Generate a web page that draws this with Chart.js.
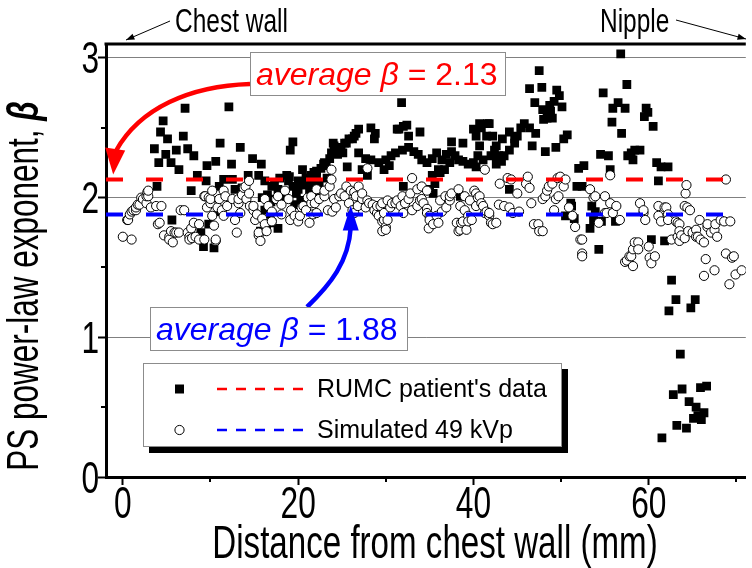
<!DOCTYPE html>
<html>
<head>
<meta charset="utf-8">
<script src="https://cdn.jsdelivr.net/npm/chart.js@4.4.1/dist/chart.umd.min.js"></script>
<style>
  html, body { margin: 0; padding: 0; background: #fff; }
  #wrap { width: 752px; height: 568px; }
</style>
</head>
<body>
<div id="wrap"><canvas id="betaChart" width="752" height="568"></canvas></div>
<script>
// RUMC patient's data (black squares): [distance mm, beta]
const rumcPoints = [
  [3.6,2.35],[3.9,2.08],[4.1,2.25],[4.3,2.47],[4.6,2.55],[4.9,2.31],[5.1,2.42],[5.5,2.25],[5.6,1.84],[6.1,2.34],
  [6.4,2.20],[6.9,2.44],[7.1,2.64],[7.4,2.35],[7.8,2.05],[8.1,2.30],[8.5,2.16],[8.9,1.75],[9.2,1.65],[9.5,2.12],
  [9.6,2.23],[9.8,1.81],[10.4,1.64],[10.6,2.26],[10.9,1.90],[11.0,2.08],[11.1,2.39],[11.5,2.13],[12.1,2.65],[12.4,2.24],
  [12.5,2.13],[12.8,2.06],[13.4,2.36],[13.6,2.07],[14.0,2.05],[14.3,2.16],[14.8,2.28],[15.5,2.16],[15.7,1.76],[15.8,2.24],
  [15.9,2.00],[16.2,2.12],[16.2,1.91],[16.4,1.79],[16.8,1.88],[17.0,2.08],[17.0,1.82],[17.2,1.99],[17.7,2.06],[17.7,1.78],
  [18.7,2.16],[18.9,2.12],[19.1,2.34],[19.4,2.40],[19.4,2.08],[20.0,2.06],[20.0,2.12],[20.6,2.09],[21.1,2.11],[21.5,2.16],
  [21.9,2.12],[22.1,2.19],[22.6,2.21],[23.0,2.25],[23.6,2.28],[23.8,2.32],[24.0,2.39],[24.1,2.37],[24.5,2.31],[24.9,2.36],
  [16.5,2.02],[17.3,2.10],[18.0,1.98],[18.4,2.04],[19.0,2.15],[19.8,2.03],[20.3,1.98],[20.9,2.14],[21.3,2.05],[21.8,2.18],
  [22.4,2.10],[22.9,2.24],[23.3,2.14],[22.0,2.00],[20.5,2.20],[19.6,1.95],[17.9,2.14],[16.9,1.97],[21.5,2.10],[22.1,2.15],
  [23.2,2.23],[25.1,2.32],[25.3,2.39],[25.5,2.39],[25.6,2.22],[25.8,2.42],[26.2,2.42],[26.4,2.44],[26.6,2.46],[26.9,2.49],
  [26.9,2.32],[27.3,2.20],[27.7,2.28],[27.9,2.16],[28.3,2.27],[28.3,2.50],[28.7,2.42],[28.8,2.46],[29.2,2.25],[29.8,2.20],
  [30.0,2.27],[30.4,2.23],[30.6,2.30],[31.1,2.32],[31.3,2.49],[31.5,2.49],[31.8,2.68],[31.9,2.34],[32.0,2.08],[32.0,2.51],
  [32.4,2.52],[32.6,2.36],[32.6,2.44],[33.2,2.33],[33.7,2.31],[33.9,2.47],[34.1,2.27],[34.7,2.25],[35.0,2.06],[35.3,2.28],
  [35.3,2.16],[35.4,2.03],[35.6,2.10],[35.8,2.32],[36.0,2.20],[36.2,2.18],[36.4,2.27],[36.7,2.20],[36.9,2.31],[37.3,2.25],
  [37.5,2.33],[37.5,2.40],[37.9,2.30],[38.3,2.27],[38.5,2.01],[38.8,2.26],[38.8,2.39],[39.4,2.24],[40.0,2.25],[40.0,2.49],
  [40.3,2.22],[40.3,2.44],[40.5,2.30],[40.7,2.53],[40.7,2.37],[40.9,2.50],[41.1,2.27],[41.5,2.44],[41.6,2.53],[41.8,2.53],
  [42.0,2.30],[42.2,2.44],[42.4,2.34],[42.6,2.24],[42.6,2.37],[42.9,2.30],[43.2,2.26],[43.3,2.42],[43.5,2.30],[44.1,2.34],
  [44.1,2.47],[44.1,2.06],[44.7,2.39],[44.7,2.42],[45.0,2.44],[45.4,2.50],[45.8,2.53],[46.4,2.50],[46.4,2.78],[46.7,2.37],
  [47.0,2.68],[47.1,2.46],[47.5,2.91],[47.8,2.79],[47.9,2.63],[48.0,2.56],[48.2,2.33],[48.4,2.57],[48.7,2.66],[48.8,2.62],
  [49.0,2.57],[49.2,2.69],[49.4,2.36],[49.5,2.77],[49.8,2.73],[50.1,2.65],[50.3,2.42],[50.5,1.87],[50.7,2.45],[51.1,1.96],
  [51.2,1.94],[51.5,1.85],[51.8,2.08],[52.0,2.21],[52.4,2.08],[52.6,2.23],[53.3,1.78],[53.5,1.94],[53.7,1.84],[53.9,1.90],
  [54.3,1.63],[54.5,2.31],[54.6,1.83],[54.8,2.75],[55.4,2.30],[55.6,2.20],[55.9,2.64],[55.8,2.54],[56.2,1.83],[56.5,2.68],
  [56.8,3.03],[56.9,2.46],[57.3,2.64],[57.5,2.81],[57.6,2.30],[58.0,2.32],[58.2,2.27],[58.4,2.34],[59.0,2.34],[59.5,2.58],
  [59.7,2.64],[59.9,2.61],[60.3,1.70],[60.5,2.51],[60.9,2.25],[61.1,2.12],[61.4,2.22],[61.5,0.28],[61.8,1.69],[62.2,2.22],
  [62.3,1.19],[62.6,1.41],[62.8,0.59],[63.1,1.27],[63.2,0.37],[63.6,0.88],[63.8,0.63],[64.1,1.72],[64.3,0.35],[64.6,0.54],
  [64.8,1.21],[65.1,0.42],[65.3,1.27],[65.4,0.50],[65.6,0.44],[65.9,0.64],[66.0,0.41],[66.3,0.46],[66.6,0.65]
];

// Simulated 49 kVp (open circles): [distance mm, beta]
const simPoints = [
  [0.0,1.72],[1.0,1.70],[0.5,1.84],[0.6,1.84],[0.8,1.88],[1.0,1.90],[1.2,1.91],[1.5,1.91],[1.5,1.93],[1.7,1.95],
  [1.9,1.95],[2.1,2.00],[2.3,1.99],[2.7,1.96],[2.7,2.01],[2.8,2.04],[2.9,2.01],[2.9,2.05],[3.2,1.93],[3.8,1.94],
  [4.4,1.94],[4.0,1.81],[4.2,1.82],[4.7,1.73],[5.3,1.72],[5.3,1.70],[5.5,1.76],[5.7,1.68],[5.9,1.75],[6.1,1.75],
  [6.4,1.75],[6.6,1.91],[7.0,1.91],[7.4,1.75],[7.6,1.72],[7.6,1.70],[7.8,1.78],[7.9,1.71],[8.1,1.82],[8.3,1.72],
  [8.7,1.81],[8.7,1.70],[9.3,2.01],[9.3,1.70],[9.4,2.01],[9.6,1.93],[9.8,2.00],[10.0,1.96],[10.0,1.99],[10.2,2.05],
  [10.2,1.87],[10.4,1.80],[10.6,1.69],[10.6,1.70],[10.8,1.93],[11.0,1.99],[11.3,1.91],[11.5,1.87],[11.5,2.05],[11.7,2.01],
  [11.9,1.94],[12.5,1.99],[12.8,1.84],[13.0,1.75],[13.2,1.96],[13.2,1.99],[13.4,1.89],[13.6,2.02],[13.8,2.07],[14.0,2.08],
  [14.1,1.99],[14.4,2.03],[14.4,2.12],[14.5,1.94],[14.9,1.91],[14.9,1.94],[15.1,1.84],[15.3,1.88],[15.5,1.73],[15.5,1.75],
  [15.7,1.69],[15.9,1.85],[16.2,1.81],[16.2,1.99],[16.4,1.76],[16.6,1.94],[17.0,1.83],[17.0,1.90],[17.5,1.99],[17.7,2.01],
  [18.1,1.95],[18.1,1.88],[18.5,2.05],[18.9,1.99],[19.1,1.84],[19.2,1.91],[19.6,1.87],[20.0,1.83],[20.2,1.87],[20.4,1.93],
  [20.6,1.94],[20.9,1.91],[21.1,2.00],[21.3,1.82],[21.5,1.96],[21.5,2.01],[21.7,1.88],[21.9,1.96],[22.1,1.89],[22.1,2.06],
  [22.4,1.99],[23.0,2.01],[23.0,2.05],[23.4,1.91],[23.6,2.08],[23.8,2.13],[23.8,2.20],[23.9,1.90],[24.1,1.99],[24.3,1.93],
  [24.7,2.01],[24.9,2.03],[25.3,2.01],[25.5,2.08],[25.8,1.96],[26.0,2.05],[26.2,1.91],[26.4,1.89],[26.4,2.04],[26.6,2.01],
  [26.8,1.94],[26.9,2.08],[27.3,1.99],[27.3,2.03],[27.7,1.93],[27.9,1.98],[27.9,2.21],[28.1,1.96],[28.5,1.95],[28.7,1.91],
  [29.0,1.89],[29.0,1.94],[29.2,1.87],[29.4,1.94],[29.6,1.96],[29.6,1.76],[29.6,1.83],[29.8,1.84],[29.8,1.89],[30.0,1.79],
  [30.0,1.77],[30.2,1.98],[30.2,1.84],[30.5,1.93],[30.7,1.96],[31.1,1.96],[31.3,1.98],[31.7,1.94],[31.9,2.01],[32.0,1.89],
  [32.2,1.96],[32.6,1.99],[32.8,2.03],[33.0,2.14],[33.0,1.91],[33.6,2.06],[33.6,1.94],[33.9,1.98],[34.1,2.08],[34.1,1.99],
  [34.3,1.96],[34.7,2.05],[34.7,1.92],[34.7,1.89],[34.9,1.78],[35.0,1.87],[35.0,1.84],[35.4,1.81],[35.8,1.87],[36.0,1.82],
  [36.2,1.98],[36.4,1.90],[36.8,2.01],[36.9,1.93],[37.3,1.98],[37.3,2.01],[37.5,2.03],[38.1,1.82],[38.3,2.06],[38.3,1.76],
  [38.5,1.94],[38.5,1.77],[38.6,1.82],[38.8,1.83],[39.0,2.01],[39.0,1.91],[39.2,1.77],[39.4,1.87],[39.4,1.83],[39.6,1.98],
  [39.8,1.84],[40.1,2.05],[40.3,1.94],[40.3,2.03],[40.5,2.00],[40.7,2.01],[40.9,1.96],[41.1,1.94],[41.3,2.20],[41.3,1.89],
  [41.5,1.90],[41.8,1.87],[41.8,1.89],[42.0,1.82],[42.2,1.81],[42.6,1.82],[42.9,1.95],[43.0,2.10],[43.5,1.94],[43.9,2.14],
  [44.1,1.93],[44.3,2.13],[44.5,1.89],[45.0,2.03],[45.2,1.90],[46.0,2.10],[46.2,2.15],[46.4,2.07],[46.6,1.96],[46.9,1.81],
  [47.4,1.81],[47.5,1.76],[47.9,1.99],[47.9,1.76],[48.2,2.01],[48.4,2.05],[48.6,2.08],[49.0,2.10],[49.2,1.91],[49.4,1.99],
  [49.6,2.14],[49.7,2.01],[49.9,2.15],[50.3,2.08],[50.5,2.13],[50.9,1.93],[51.3,1.87],[51.6,1.79],[52.2,1.70],[52.4,1.60],
  [52.4,1.70],[52.4,1.58],[53.3,2.06],[53.7,2.00],[53.9,2.01],[54.3,1.82],[55.0,2.01],[55.0,1.89],[55.2,1.89],[55.6,1.96],
  [55.6,2.16],[55.9,1.89],[56.3,1.94],[56.7,1.84],[57.3,1.54],[57.5,1.55],[57.8,1.58],[58.0,1.58],[58.2,1.63],[58.2,1.51],
  [58.4,1.68],[58.8,1.68],[58.8,1.63],[59.0,1.96],[59.4,1.89],[59.4,1.91],[59.6,1.84],[60.0,1.65],[60.1,1.57],[60.3,1.53],
  [60.7,1.58],[61.1,1.94],[61.1,1.87],[61.4,1.83],[61.8,1.93],[62.0,1.93],[62.2,1.88],[62.2,1.84],[62.6,1.70],[63.1,1.83],
  [63.3,1.82],[63.3,1.72],[63.5,1.81],[63.5,1.76],[63.5,1.69],[63.7,1.73],[64.1,1.94],[64.1,1.71],[64.2,2.03],[64.3,2.09],
  [64.4,1.93],[64.5,1.76],[64.7,1.91],[65.0,1.75],[65.4,1.77],[65.4,1.72],[65.6,1.72],[65.8,1.84],[65.9,1.70],[66.3,1.68],
  [66.3,1.44],[66.5,1.56],[66.7,1.79],[66.7,1.81],[67.1,1.75],[67.5,1.77],[67.5,1.48],[67.6,1.81],[67.8,1.72],[68.2,1.84],
  [68.6,1.83],[68.8,1.60],[68.8,2.13],[69.2,1.38],[69.3,1.83],[69.5,1.57],[69.7,1.58],[69.9,1.45],[70.6,1.48]
];

const avgRumc = 2.13;
const avgSim = 1.88;
const xMin = -1.92, xMax = 71.07;
const yMin = 0, yMax = 3.1;
const xTicks = [0, 10, 20, 30, 40, 50, 60, 70];
const xLabelled = [0, 20, 40, 60];
const yTicks = [0, 0.5, 1, 1.5, 2, 2.5, 3];
const yLabelled = [0, 1, 2, 3];
const yGridAt = [1, 2, 3];

const sans = "'Liberation Sans', Arial, sans-serif";
const SQUEEZE = 0.72;   // the original figure's axis text is horizontally compressed
const RED = '#ff0000', BLUE = '#0000ff';

// draw text compressed horizontally around its anchor
function squeezedText(ctx, str, x, y, font, align, sx) {
  ctx.save();
  ctx.translate(x, y);
  ctx.scale(sx || SQUEEZE, 1);
  ctx.font = font;
  ctx.textAlign = align;
  ctx.textBaseline = 'alphabetic';
  ctx.fillText(str, 0, 0);
  ctx.restore();
}

// frame, minor ticks, axis text, annotations, arrows and legend
const decorPlugin = {
  id: 'decor',
  afterDraw(chart) {
    const { ctx, chartArea: a, scales: { x, y } } = chart;
    ctx.save();

    // top frame line
    ctx.strokeStyle = '#000';
    ctx.lineWidth = 3;
    ctx.beginPath();
    ctx.moveTo(a.left - 1.5, a.top);
    ctx.lineTo(a.right, a.top);
    ctx.stroke();

    // minor ticks
    ctx.lineWidth = 2;
    ctx.beginPath();
    yTicks.filter(v => !yLabelled.includes(v)).forEach(v => {
      const p = Math.round(y.getPixelForValue(v));
      ctx.moveTo(a.left, p); ctx.lineTo(a.left - 5, p);
    });
    xTicks.filter(v => !xLabelled.includes(v)).forEach(v => {
      const p = Math.round(x.getPixelForValue(v));
      ctx.moveTo(p, a.bottom); ctx.lineTo(p, a.bottom + 5);
    });
    ctx.stroke();

    // tick labels from the scales
    ctx.fillStyle = '#000';
    const tickFont = '44px ' + sans;
    yLabelled.forEach(v => {
      squeezedText(ctx, String(v), a.left - 7, y.getPixelForValue(v) + 15.5, tickFont, 'right');
    });
    xLabelled.forEach(v => {
      squeezedText(ctx, String(v), x.getPixelForValue(v), a.bottom + 41, tickFont, 'center');
    });

    // axis titles
    squeezedText(ctx, 'Distance from chest wall (mm)', 435, 558, '46px ' + sans, 'center');
    ctx.save();
    ctx.translate(38, 286);
    ctx.rotate(-Math.PI / 2);
    ctx.scale(0.7, 1);
    const t1 = 'PS power-law exponent, ';
    ctx.font = '45px ' + sans;
    const w1 = ctx.measureText(t1).width;
    ctx.font = 'italic bold 45px ' + sans;
    const w2 = ctx.measureText('\u03b2').width;
    const sx = -(w1 + w2) / 2;
    ctx.textBaseline = 'alphabetic';
    ctx.textAlign = 'left';
    ctx.font = '45px ' + sans;
    ctx.fillText(t1, sx, 0);
    ctx.font = 'italic bold 45px ' + sans;
    ctx.fillText('\u03b2', sx + w1, 0);
    ctx.restore();

    // average annotations
    function avgBox(left, top, w, h, value, color) {
      ctx.fillStyle = '#fff';
      ctx.fillRect(left, top, w, h);
      ctx.strokeStyle = '#8c8c8c';
      ctx.lineWidth = 1;
      ctx.strokeRect(left + 0.5, top + 0.5, w, h);
      ctx.fillStyle = color;
      ctx.textAlign = 'left';
      ctx.textBaseline = 'alphabetic';
      const base = top + h / 2 + 11;
      ctx.font = 'italic 32px ' + sans;
      const lead = 'average \u03b2';
      ctx.fillText(lead, left + 6, base);
      const lw = ctx.measureText(lead).width;
      ctx.font = '32px ' + sans;
      ctx.fillText(' = ' + value.toFixed(2), left + 6 + lw, base);
    }

    // red curved arrow to the RUMC average line
    const redTipY = y.getPixelForValue(avgRumc) - 5;
    const redTipX = x.getPixelForValue(-1.1);
    ctx.strokeStyle = RED;
    ctx.fillStyle = RED;
    ctx.lineWidth = 4.5;
    ctx.beginPath();
    ctx.moveTo(250, 84);
    ctx.bezierCurveTo(190, 86, 140, 108, redTipX + 3, redTipY - 24);
    ctx.stroke();
    ctx.beginPath();
    ctx.moveTo(redTipX, redTipY);
    ctx.lineTo(redTipX - 8, redTipY - 27);
    ctx.lineTo(redTipX + 12, redTipY - 24);
    ctx.closePath();
    ctx.fill();

    // blue curved arrow to the simulated average line
    const blueTipY = y.getPixelForValue(avgSim) - 9;
    const blueTipX = x.getPixelForValue(26.0);
    ctx.strokeStyle = BLUE;
    ctx.fillStyle = BLUE;
    ctx.beginPath();
    ctx.moveTo(307, 307);
    ctx.bezierCurveTo(330, 285, blueTipX - 2, 262, blueTipX, blueTipY + 22);
    ctx.stroke();
    ctx.beginPath();
    ctx.moveTo(blueTipX, blueTipY);
    ctx.lineTo(blueTipX - 8, blueTipY + 25);
    ctx.lineTo(blueTipX + 8, blueTipY + 25);
    ctx.closePath();
    ctx.fill();

    avgBox(250, 52, 255, 43, avgRumc, RED);
    avgBox(150, 307, 257, 43, avgSim, BLUE);

    // legend with shadow
    const L = 143, T = 363, W = 419, H = 84;
    ctx.fillStyle = '#000';
    ctx.fillRect(L + 6, T + 6, W, H);
    ctx.fillStyle = '#fff';
    ctx.fillRect(L, T, W, H);
    ctx.strokeStyle = '#8c8c8c';
    ctx.lineWidth = 1;
    ctx.strokeRect(L + 0.5, T + 0.5, W - 1, H - 1);
    const rows = [
      { y: T + 26, label: "RUMC patient's data", color: RED, marker: 'rect' },
      { y: T + 67, label: 'Simulated 49 kVp', color: BLUE, marker: 'circle' }
    ];
    rows.forEach(r => {
      if (r.marker === 'rect') {
        ctx.fillStyle = '#000';
        ctx.fillRect(175, r.y - 4.5, 9, 9);
      } else {
        ctx.beginPath();
        ctx.arc(179.5, r.y, 4.6, 0, Math.PI * 2);
        ctx.fillStyle = '#fff';
        ctx.fill();
        ctx.strokeStyle = '#000';
        ctx.lineWidth = 1;
        ctx.stroke();
      }
      ctx.strokeStyle = r.color;
      ctx.lineWidth = 2.5;
      ctx.setLineDash([10, 9]);
      ctx.beginPath();
      ctx.moveTo(217, r.y);
      ctx.lineTo(308, r.y);
      ctx.stroke();
      ctx.setLineDash([]);
      ctx.fillStyle = '#000';
      ctx.font = '25px ' + sans;
      ctx.textAlign = 'left';
      ctx.textBaseline = 'middle';
      ctx.fillText(r.label, 317, r.y + 1);
    });

    // top labels with pointers
    ctx.fillStyle = '#000';
    ctx.strokeStyle = '#000';
    squeezedText(ctx, 'Chest wall', 175, 32, '34px ' + sans, 'left');
    squeezedText(ctx, 'Nipple', 600, 32, '34px ' + sans, 'left');
    function pointer(x1, y1, x2, y2) {
      ctx.lineWidth = 1;
      ctx.beginPath();
      ctx.moveTo(x1, y1); ctx.lineTo(x2, y2);
      ctx.stroke();
      const ang = Math.atan2(y2 - y1, x2 - x1);
      ctx.beginPath();
      ctx.moveTo(x2, y2);
      ctx.lineTo(x2 - 9 * Math.cos(ang - 0.35), y2 - 9 * Math.sin(ang - 0.35));
      ctx.lineTo(x2 - 9 * Math.cos(ang + 0.35), y2 - 9 * Math.sin(ang + 0.35));
      ctx.closePath();
      ctx.fill();
    }
    pointer(170, 21, 126, 40);
    pointer(676, 20, 746, 39);

    ctx.restore();
  }
};

const ctx = document.getElementById('betaChart').getContext('2d');
const betaChart = new Chart(ctx, {
  type: 'scatter',
  data: {
    datasets: [
      {
        type: 'line',
        label: 'RUMC average',
        data: [{ x: xMin, y: avgRumc }, { x: xMax, y: avgRumc }],
        borderColor: RED,
        borderWidth: 4,
        borderDash: [17, 23],
        pointRadius: 0,
        order: 0
      },
      {
        type: 'line',
        label: 'Simulated average',
        data: [{ x: xMin, y: avgSim }, { x: xMax, y: avgSim }],
        borderColor: BLUE,
        borderWidth: 4,
        borderDash: [17, 23],
        pointRadius: 0,
        order: 0
      },
      {
        label: 'Simulated 49 kVp',
        data: simPoints.map(p => ({ x: p[0], y: p[1] })),
        pointStyle: 'circle',
        pointRadius: 4.6,
        backgroundColor: '#fff',
        borderColor: '#000',
        borderWidth: 1,
        order: 1
      },
      {
        label: "RUMC patient's data",
        data: rumcPoints.map(p => ({ x: p[0], y: p[1] })),
        pointStyle: 'rect',
        pointRadius: 6.2,
        backgroundColor: '#000',
        borderColor: '#000',
        borderWidth: 0,
        order: 2
      }
    ]
  },
  options: {
    responsive: false,
    animation: false,
    layout: { padding: { top: 44, right: 0, left: 0, bottom: 0 } },
    plugins: { legend: { display: false }, tooltip: { enabled: false } },
    scales: {
      x: {
        type: 'linear',
        min: xMin,
        max: xMax,
        afterFit: s => { s.height = 91; },
        afterBuildTicks: s => { s.ticks = xTicks.map(v => ({ value: v })); },
        ticks: { display: false, autoSkip: false, maxRotation: 0 },
        grid: {
          drawOnChartArea: false,
          tickLength: 8,
          tickWidth: 2,
          tickColor: c => xLabelled.includes(c.tick.value) ? '#000' : 'rgba(0,0,0,0)'
        },
        border: { display: true, color: '#000', width: 3 }
      },
      y: {
        type: 'linear',
        min: yMin,
        max: yMax,
        afterFit: s => { s.width = 106; },
        afterBuildTicks: s => { s.ticks = yTicks.map(v => ({ value: v })); },
        ticks: { display: false, autoSkip: false },
        grid: {
          tickLength: 8,
          tickWidth: 2,
          lineWidth: 1,
          color: c => (c.tick && yGridAt.includes(c.tick.value)) ? '#808080' : 'rgba(0,0,0,0)',
          tickColor: c => yLabelled.includes(c.tick.value) ? '#000' : 'rgba(0,0,0,0)'
        },
        border: { display: true, color: '#000', width: 3 }
      }
    }
  },
  plugins: [decorPlugin]
});
</script>
</body>
</html>
